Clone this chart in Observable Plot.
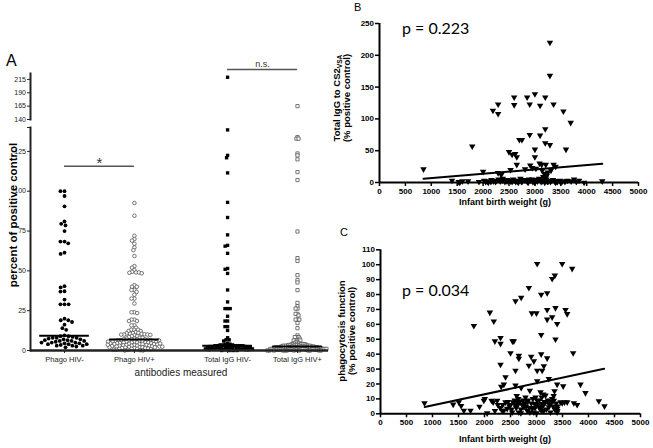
<!DOCTYPE html>
<html><head><meta charset="utf-8">
<script src="https://cdn.jsdelivr.net/npm/d3@7"></script>
<script src="https://cdn.jsdelivr.net/npm/@observablehq/plot@0.6"></script>
<style>
body{margin:0;background:#fff;}
#root{position:relative;width:653px;height:448px;overflow:hidden;font-family:"Liberation Sans",Arial,sans-serif;color:#000;}
#root svg{max-width:none;}
.t{position:absolute;white-space:nowrap;}
.rot{transform:translate(-50%,-50%) rotate(-90deg);text-align:center;}
sub{font-size:0.7em;line-height:0;vertical-align:-0.25em;}
</style></head><body><div id="root"></div>
<script>
// ---------- Panel A data ----------
const categories = ["Phago HIV-", "Phago HIV+", "Total IgG HIV-", "Total IgG HIV+"];
const phagoNeg = [100, 100, 97, 90.5, 81, 79.5, 78.5, 75, 68.4, 68.4, 67.3, 61.4, 60.6, 40.4, 39.6, 37.2, 37, 32, 29, 29, 29, 20, 19, 19, 17.9, 16.2, 14, 13,
  9.5, 9, 9, 8.5, 8, 8, 8, 7.5, 7, 7, 6.5, 6.5, 6, 6, 6, 5.5, 5, 5, 5, 4.5, 4.5, 4, 4, 4, 3.5, 3, 3, 3, 2.5, 2];
const phagoPos = [92.6, 84.6, 72, 70, 69, 67, 64.7, 63, 59.3, 53, 52, 50.5, 49.4, 49, 49, 48.8, 48.5, 41, 40, 40, 38, 38, 36.8, 35, 32.6, 32.6, 29.5, 24, 24, 23.5, 19.4, 19.4, 18.5, 18.5, 15.8, 15.8, 14.3, 13, 13, 13, 12.2, 12.2,
  11.5, 11, 11, 10.8, 10.5, 10.5, 10.2, 10, 10, 10,
  9.8, 9.5, 9, 9, 8.5, 8, 8, 7.5, 7.5, 7, 7, 7, 7,
  6.8, 6.5, 6.5, 6.5, 6.2, 6, 6, 6, 6, 5.8, 5.5, 5.5, 5.5, 5.2, 5, 5, 5, 5, 4.8, 4.5, 4.5, 4.5, 4.2, 4, 4, 4, 4, 3.8, 3.5, 3.5, 3.5, 3.2, 3, 3, 3, 3, 2.8, 2.5, 2.5, 2.5, 2.2, 2, 2, 2, 2, 1.8, 1.5, 1.5, 1.5, 1.2, 1, 1, 1, 0.8, 0.5, 0.5, 0.5, 0.2, 0, 0, 6.4, 5.6, 4.4, 3.6, 2.4];
const igNeg = [219, 138.5, 122.5, 121, 111.5, 93, 83.5, 72.6, 66, 65.5, 61, 51.5, 51, 48.4, 38, 30.5, 26.3, 26.3, 26.3, 21.5, 18.5, 18.5, 15, 15, 12.6, 8, 6.7, 6.7, 6,
  4.5, 4, 4, 3.5, 3.5, 3.5, 3, 3, 3, 3, 3, 3, 2.5, 2.5, 2.5, 2.5, 2, 2, 2, 2, 2, 2, 1.5, 1.5, 1.5, 1.5, 1.5, 1, 1, 1, 1, 1, 1, 0.5, 0.5, 0.5, 0.5, 0.5, 0, 0, 0, 0];
const igPos = [165, 134, 133, 133, 123.7, 122.5, 120, 112, 107, 74.7, 58, 56.2, 47.3, 44.2, 42.7, 37.9, 29.9, 27.8, 26.3, 26.3, 23, 23, 22, 19.4, 19.4, 19.4, 17.2, 14, 9.5, 8.4, 8.4, 8.4, 7.4, 6.3, 6.3, 6.3, 6.3, 5, 5,
  4.5, 4.5, 4, 4, 4, 4, 3.5, 3.5, 3.5, 3.5, 3.5, 3, 3, 3, 3, 3, 3, 3, 2.5, 2.5, 2.5, 2.5, 2.5, 2.5, 2.5,
  2, 2, 2, 2, 2, 2, 2, 2, 2, 2, 1.5, 1.5, 1.5, 1.5, 1.5, 1.5, 1.5, 1.5, 1.5, 1.5,
  1, 1, 1, 1, 1, 1, 1, 1, 1, 1, 1, 1, 0.5, 0.5, 0.5, 0.5, 0.5, 0.5, 0.5, 0.5, 0.5, 0.5, 0, 0, 0, 0, 0, 0, 0, 0, 0, 0, 0, 0];
const ticksLow = [0, 25, 50, 75, 100, 125];
const ticksUp = [140, 165, 190, 215];
const significance = [
  {from: "Phago HIV-", to: "Phago HIV+", y: 115.7, label: "*"},
  {from: "Total IgG HIV-", to: "Total IgG HIV+", y: 233.5, label: "n.s."}
];

// ---------- Panel B / C data ----------
const weightTicks = [0, 500, 1000, 1500, 2000, 2500, 3000, 3500, 4000, 4500, 5000];
const ticksB = [0, 50, 100, 150, 200, 250];
const ticksC = [0, 10, 20, 30, 40, 50, 60, 70, 80, 90, 100, 110];
const bWeight = [850, 1790, 2000, 2190, 2290, 2290, 2500, 2560, 2620, 2600, 2600, 2650, 2650, 2700, 2750, 2850, 2900, 2900, 3000, 3000, 3000, 3100, 3100, 3200, 3200, 3200, 3290, 3290, 3290, 3360, 3550, 3600, 3690, 3090, 3130, 3210, 3360, 3400, 3310, 2910, 2950, 3020, 2530, 2350, 2290, 2810, 3140, 3180, 3230, 3250, 3210, 3160,
  1400, 1530, 1600, 1710, 1920, 2020, 2080, 2160, 2240, 2300, 2330, 2370, 2420, 2470, 2530, 2580, 2630, 2690, 2720, 2760, 2800, 2855, 2890, 2920, 2960, 3015, 3050, 3080, 3120, 3177, 3220, 3260, 3300, 3350, 3380, 3435, 3480, 3531, 3580, 3627, 3700, 3756, 3800, 3853, 3950, 4300,
  2150, 2380, 2460, 2510, 2560, 2660, 2740, 2830, 2980, 3040, 3140, 3240, 3320, 3420, 2100, 2260, 2200, 1550, 2050, 2680, 2870, 3000, 3190, 3400, 3500, 2600, 2950, 3160];
const bIgG = [21, 57, 17, 113, 123, 108, 48, 44, 45, 134, 122, 40, 28, 67, 67, 134, 75, 123, 139, 52, 40, 121, 74, 134, 84, 62, 220, 168, 59, 123, 112, 52, 94, 30, 28, 28, 28, 25, 19, 27, 23, 22, 20, 12, 15, 21, 19, 14, 11, 16, 8, 9,
  3, 1, 2, 2, 1, 3, 2, 4, 1, 5, 2, 3, 1, 4, 2, 5, 1, 3, 6, 2, 4, 1, 5, 3, 1, 4, 2, 6, 1, 3, 5, 2, 1, 4, 2, 1, 3, 2, 1, 3, 2, 5, 1, 3, 0, 2,
  1, 6, 2, 3, 1, 2, 1, 3, 2, 3, 2, 1, 3, 2, 0, 3, 2, 0, 1, 0, 0, 0, 0, 0, 0, 3, 5, 4];
const cWeight = [846, 1397, 1506, 1551, 1603, 1731, 1795, 1904, 1987, 2006, 2051, 2103, 2179, 2199, 2308, 2308, 2308, 2321, 2372, 2404, 2500, 2538, 2564, 2596, 2596, 2596, 2660, 2660, 2705, 2705, 2853, 2853, 2897, 2910, 2949, 2999, 3013, 3013, 3013, 3090, 3090, 3090, 3109, 3141, 3205, 3205, 3205, 3205, 3237, 3301, 3301, 3353, 3365, 3365, 3397, 3397, 3494, 3513, 3558, 3590, 3686, 3705, 3846, 3942, 4199, 4308,
  2872, 3077, 3346, 3538, 3590, 3718, 3782, 3462, 3494, 2135, 2167, 2256, 2372, 2436, 2500, 2551, 2628, 2724, 2756, 2821, 2872, 2917, 2962, 3013, 3064, 3109, 3173, 3237, 3282, 3333, 3397, 3397, 2340, 2532, 2660, 2949, 3141, 3269, 2244, 2404, 2596, 2788, 2981, 3173, 3301, 2821, 2999,
  2300, 2350, 2450, 2480, 2520, 2580, 2610, 2640, 2680, 2700, 2740, 2770, 2800, 2840, 2860, 2900, 2930, 2970, 3030, 3050, 3070, 3100, 3120, 3150, 3190, 3220, 3250, 3270, 3320, 3350, 3380, 3400, 3130, 3330, 2620, 2650, 2200, 2700, 3000, 3100, 3400];
const cPhago = [7.2, 6.3, 7.8, 5.4, 2.2, 2.2, 59, 4.9, 8.9, 10, 0.4, 68, 62, 48.7, 51, 47, 33, 18.3, 19.7, 24.6, 40.7, 48.7, 48.7, 75.6, 29, 19, 39, 37, 78, 17.4, 84.5, 32.4, 38.4, 67.5, 35.3, 67.5, 100.6, 29, 22, 80, 53, 40, 29, 32, 37.3, 81, 69.7, 63.3, 23.5, 64.8, 90.5, 92.8, 71, 50, 60.4, 19.7, 100.6, 18.5, 69.7, 67, 97.3, 40.7, 19.7, 14, 8.5, 5.1,
  15.6, 14.5, 15.2, 7.8, 7.8, 7.2, 6, 7.8, 7.2, 8.9, 7.8, 6, 2.2, 3.4, 6, 7.8, 7.8, 6, 4.5, 2.2, 1, 3.4, 6.7, 8.9, 4.5, 6.7, 7.8, 4.5, 7.2, 8.9, 3.4, 1, 2.2, 1, 1, 1, 2.2, 1, 8.9, 7.8, 5.6, 11, 11, 12.3, 10, 7.8, 5.6,
  4, 6, 8, 5, 3, 9, 4, 6, 8, 3, 9, 7, 5, 9, 4, 7, 10, 4, 6, 9, 3, 11, 5, 8, 3, 9, 6, 8, 5, 3, 7, 5, 13, 12, 12, 10, 2, 0.5, 0.5, 2, 2];
const fitWeight = [850, 4300];
const fitB = [5.8, 29.3];
const fitC = [4.5, 30.2];

// ---------- helpers ----------
const root = document.getElementById("root");
function put(node, left, top, w) {
  const d = document.createElement("div");
  d.style.cssText = `position:absolute;left:${left}px;top:${top}px;width:${w}px;`;
  d.appendChild(node); root.appendChild(d);
}
function text(html, css) {
  const d = document.createElement("div");
  d.className = "t"; d.innerHTML = html; d.style.cssText += css; root.appendChild(d); return d;
}

// ---------- Panel A ----------
const groups = [phagoNeg, phagoPos, igNeg, igPos];
const dataA = groups.flatMap((vals, k) => vals.map(v => ({group: categories[k], value: v})));
const slotIndex = [0, 6, 14, 20];
const slots = d3.range(21).map(i => { const k = slotIndex.indexOf(i); return k >= 0 ? categories[k] : "\u00b7" + i; });
const sig = significance.map(s => ({...s, mid: slots[(slots.indexOf(s.from) + slots.indexOf(s.to)) / 2]}));
const styleA = [
  {symbol: "circle", fill: "#000", stroke: "none", r: 1.9},
  {symbol: "circle", fill: "#fff", stroke: "#555", strokeWidth: 0.8, r: 1.8},
  {symbol: "square", fill: "#000", stroke: "none", r: 1.9},
  {symbol: "square", fill: "#fff", stroke: "#555", strokeWidth: 0.8, r: 1.8}
];
const packing = [0.3, -0.7, -1.2, -1.7];
const wA = 330, hLow = 265, topLow = 120, hUp = 70, topUp = 50;
const axisStyle = {fontFamily: "Liberation Sans, Arial, sans-serif", fontSize: "7px", background: "none", color: "#222", overflow: "visible"};
const xPoint = {type: "point", domain: slots, padding: 0.5, insetLeft: 28.2, insetRight: 25.2, round: false};

const lowFacet = Plot.plot({
  width: wA, height: hLow, marginLeft: 58.2, marginRight: 27.2, marginTop: 7, marginBottom: 35,
  style: {background: "none", overflow: "visible"},
  fx: {domain: slots, padding: 0, round: false, axis: null},
  y: {domain: [0, 140], axis: null},
  marks: [
    ...categories.map((c, k) => Plot.dot(dataA.filter(d => d.group === c && d.value <= 140),
      Plot.dodgeX({anchor: "middle", padding: packing[k]}, {fx: "group", y: "value", ...styleA[k]}))),
    Plot.tickY(dataA, Plot.groupZ({y: "median"}, {fx: "group", y: "value", stroke: "#000", strokeWidth: 2, insetLeft: -19, insetRight: -19}))
  ]
});
const lowAxes = Plot.plot({
  width: wA, height: hLow, marginLeft: 30, marginRight: 2, marginTop: 7, marginBottom: 35,
  style: axisStyle,
  x: xPoint,
  y: {domain: [0, 140]},
  marks: [
    Plot.axisY([...ticksLow, 140], {tickSize: 3, tickPadding: 1.5, tickFormat: d => d === 140 ? "" : d, label: null, stroke: "#222"}),
    Plot.frame({anchor: "left", stroke: "#222", strokeWidth: 2}),
    Plot.ruleY([0], {stroke: "#222", strokeWidth: 2.5}),
    Plot.axisX(categories, {tickSize: 3, tickPadding: 3, fontSize: 7.5, label: null, stroke: "#222"}),
    Plot.ruleY(sig.filter(s => s.y <= 140), {x1: "from", x2: "to", y: "y", stroke: "#555", strokeWidth: 1.6}),
    Plot.text(sig.filter(s => s.y <= 140), {x: "mid", y: "y", text: "label", dy: -3, fontSize: 15, fill: "#333"})
  ]
});
const upAxes = Plot.plot({
  width: wA, height: hUp, marginLeft: 30, marginRight: 2, marginTop: 23, marginBottom: 1,
  style: axisStyle,
  x: {...xPoint, axis: null},
  y: {domain: [140, 226]},
  marks: [
    Plot.axisY(ticksUp, {tickSize: 3, tickPadding: 1.5, label: null, stroke: "#222"}),
    Plot.frame({anchor: "left", stroke: "#222", strokeWidth: 2}),
    ...categories.map((c, k) => Plot.dot(dataA.filter(d => d.group === c && d.value > 140), {x: "group", y: "value", ...styleA[k]})),
    Plot.ruleY(sig.filter(s => s.y > 140), {x1: "from", x2: "to", y: "y", stroke: "#555", strokeWidth: 1.6}),
    Plot.text(sig.filter(s => s.y > 140), {x: "mid", y: "y", text: "label", dy: -5, fontSize: 9, fill: "#333"})
  ]
});
put(upAxes, 0, topUp, wA);
put(lowFacet, 0, topLow, wA);
put(lowAxes, 0, topLow, wA);
text("A", "left:6px;top:52px;font-size:16px;");
text("percent of positive control", "left:13px;top:215px;font-size:11.5px;font-weight:bold;").classList.add("rot");
text("antibodies measured", "left:181px;top:367px;font-size:10px;transform:translateX(-50%);color:#222;");

// ---------- Panels B, C ----------
const intFmt = d3.format("d");
function scatter(weights, values, fitY, yDomain, yTicks, w, h, m) {
  const pts = weights.map((x, i) => ({x, y: values[i]}));
  const fit = fitWeight.map((x, i) => ({x, y: fitY[i]}));
  return Plot.plot({
    width: w, height: h, marginLeft: m[0], marginRight: m[1], marginTop: m[2], marginBottom: m[3],
    style: {fontFamily: "Liberation Sans, Arial, sans-serif", fontWeight: "bold", fontSize: "8px", background: "none", overflow: "visible"},
    x: {domain: [0, 5000]},
    y: {domain: yDomain},
    marks: [
      Plot.axisX(weightTicks, {tickSize: 4, tickPadding: 1.5, tickFormat: intFmt, label: null, strokeWidth: 1.5}),
      Plot.axisY(yTicks, {tickSize: 4, tickPadding: 1.5, tickFormat: intFmt, label: null, strokeWidth: 1.5}),
      Plot.ruleX([0], {strokeWidth: 2}),
      Plot.ruleY([0], {strokeWidth: 2}),
      Plot.dot(pts, {x: "x", y: "y", symbol: "triangle", rotate: 180, r: 2.4, fill: "#000", stroke: "none"}),
      Plot.line(fit, {x: "x", y: "y", stroke: "#000", strokeWidth: 2})
    ]
  });
}
put(scatter(bWeight, bIgG, fitB, [0, 250], ticksB, 323, 215, [49, 15, 23, 33]), 330, 0, 323);
put(scatter(cWeight, cPhago, fitC, [0, 110], ticksC, 323, 228, [50, 13, 29.3, 34.7]), 330, 220, 323);

text("B", "left:354px;top:1px;font-size:11px;");
text("C", "left:340px;top:226px;font-size:11px;");
text("p = 0.223", "left:402px;top:18px;font-size:16px;font-family:Lato,sans-serif;");
text("p = 0.034", "left:402px;top:280px;font-size:16px;font-family:Lato,sans-serif;");
text("Total IgG to CS2<sub>VSA</sub><br>(% positive control)", "left:342px;top:98px;font-size:9.5px;font-weight:bold;line-height:10px;").classList.add("rot");
text("phagocytosis function<br>(% positive control)", "left:347px;top:331px;font-size:9.5px;font-weight:bold;line-height:10px;").classList.add("rot");
text("Infant birth weight (g)", "left:505px;top:197px;font-size:9px;font-weight:bold;transform:translateX(-50%);");
text("Infant birth weight (g)", "left:505px;top:434px;font-size:9px;font-weight:bold;transform:translateX(-50%);");
</script></body></html>
